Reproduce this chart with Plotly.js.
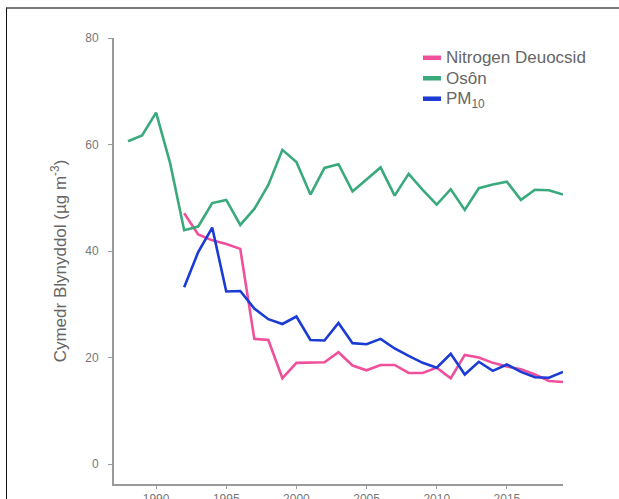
<!DOCTYPE html>
<html>
<head>
<meta charset="utf-8">
<script src="https://cdn.plot.ly/plotly-3.0.1.min.js"></script>
<style>
  html, body { margin: 0; padding: 0; background: #fff; }
  #wrap { position: relative; width: 619px; height: 499px; overflow: hidden; }
  #frame { position: absolute; left: 6px; top: 7px; width: 640px; height: 520px;
           border-top: 2px solid #7a7a7a; border-left: 1.5px solid #111; }
  #chart { position: absolute; left: 0; top: 0; width: 619px; height: 499px; }
</style>
</head>
<body>
<div id="wrap">
  <div id="frame"></div>
  <div id="chart"></div>
</div>
<script>
// ---- data ----
const yearsOzone = [1988,1989,1990,1991,1992,1993,1994,1995,1996,1997,1998,1999,2000,2001,2002,2003,2004,2005,2006,2007,2008,2009,2010,2011,2012,2013,2014,2015,2016,2017,2018,2019];
const ozone = [60.6,61.7,66.0,56.5,43.9,44.6,49.0,49.6,44.9,47.9,52.4,59.0,56.7,50.6,55.6,56.3,51.2,53.5,55.7,50.4,54.5,51.5,48.7,51.6,47.7,51.8,52.5,53.0,49.6,51.5,51.4,50.6];

const yearsOther = [1992,1993,1994,1995,1996,1997,1998,1999,2000,2001,2002,2003,2004,2005,2006,2007,2008,2009,2010,2011,2012,2013,2014,2015,2016,2017,2018,2019];
const no2 = [47.1,43.1,42.0,41.3,40.4,23.5,23.3,16.1,19.0,19.0,19.1,21.0,18.5,17.6,18.6,18.6,17.1,17.1,18.1,16.1,20.5,20.0,19.0,18.3,17.8,16.8,15.6,15.4];
const pm10 = [33.2,39.8,44.4,32.4,32.5,29.2,27.2,26.3,27.7,23.3,23.2,26.5,22.7,22.5,23.5,21.7,20.3,19.0,18.1,20.7,16.8,19.2,17.5,18.7,17.3,16.3,16.2,17.3];

const seriesNames = ["Nitrogen Deuocsid", "Osôn", "PM<sub>10</sub>"];
const xTickVals = [1990,1995,2000,2005,2010,2015];
const yTickVals = [0,20,40,60,80];
const yTitle = "Cymedr Blynyddol (µg m<sup>-3</sup>)";

// ---- styles ----
const colors = ["#f0509b", "#3aa97c", "#1a3bd4"];
const fontFam = "'Liberation Sans', Arial, Helvetica, sans-serif";
const lw = 2.6;

const traces = [
  { x: yearsOther, y: no2, name: seriesNames[0], mode: "lines", line: { color: colors[0], width: lw }, showlegend: false },
  { x: yearsOzone, y: ozone, name: seriesNames[1], mode: "lines", line: { color: colors[1], width: lw }, showlegend: false },
  { x: yearsOther, y: pm10, name: seriesNames[2], mode: "lines", line: { color: colors[2], width: lw }, showlegend: false }
];

// custom legend (positions in paper coords)
const L = 114, R = 563, T = 37.7, B = 484.3;
const px2x = p => (p - L) / (R - L);
const py2y = p => (B - p) / (B - T);
const lineRows = [57.5, 78, 98.5];
const textRows = [57, 78, 100];
const shapes = [];
const annotations = [];
seriesNames.forEach((nm, i) => {
  shapes.push({ type: "line", xref: "paper", yref: "paper",
    x0: px2x(423), x1: px2x(441), y0: py2y(lineRows[i]), y1: py2y(lineRows[i]),
    line: { color: colors[i], width: 4.5 } });
  annotations.push({ xref: "paper", yref: "paper", x: px2x(444.5), y: py2y(textRows[i]),
    xanchor: "left", yanchor: "middle", showarrow: false, text: nm, borderpad: 0,
    font: { family: fontFam, size: 17, color: "#666" } });
});

const layout = {
  width: 619, height: 499,
  margin: { l: L, r: 619 - R, t: T, b: 499 - B, pad: 0 },
  paper_bgcolor: "rgba(0,0,0,0)", plot_bgcolor: "rgba(0,0,0,0)",
  font: { family: fontFam, color: "#777" },
  showlegend: false,
  xaxis: {
    range: [1987, 2019], tickvals: xTickVals, ticktext: xTickVals.map(String),
    showgrid: false, zeroline: false, showline: true, linecolor: "#9a9a9a", linewidth: 2,
    ticks: "outside", ticklen: 3, tickcolor: "#9a9a9a", tickwidth: 1,
    tickfont: { family: fontFam, size: 12, color: "#777" }
  },
  yaxis: {
    range: [-3.75, 80], tickvals: yTickVals, ticktext: yTickVals.map(String),
    showgrid: false, zeroline: false, showline: true, linecolor: "#9a9a9a", linewidth: 2,
    ticks: "outside", ticklen: 4, tickcolor: "#9a9a9a", tickwidth: 1,
    ticklabelstandoff: 7,
    tickfont: { family: fontFam, size: 12, color: "#777" },
    title: { text: yTitle, standoff: 14, font: { family: fontFam, size: 17, color: "#666" } }
  },
  shapes: shapes,
  annotations: annotations
};

Plotly.newPlot("chart", traces, layout, { displayModeBar: false, staticPlot: true });
</script>
</body>
</html>
